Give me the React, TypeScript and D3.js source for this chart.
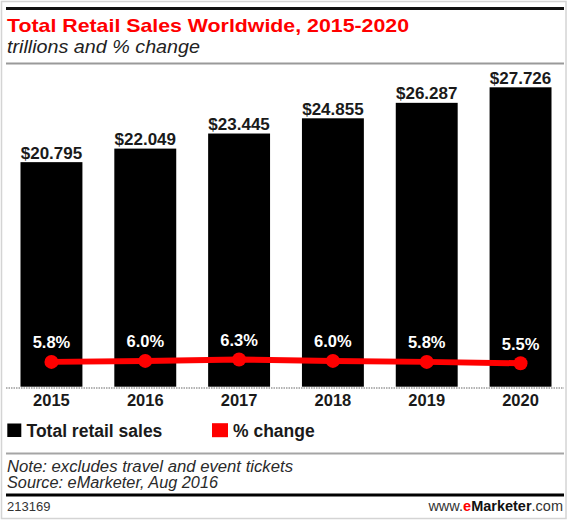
import React from "react";
import * as d3 from "d3";

const years = ["2015", "2016", "2017", "2018", "2019", "2020"];
const salesTrillions = [20.795, 22.049, 23.445, 24.855, 26.287, 27.726];
const pctChange = [5.8, 6.0, 6.3, 6.0, 5.8, 5.5];
const titleText = "Total Retail Sales Worldwide, 2015-2020";
const subtitleText = "trillions and % change";
const legendLabels = ["Total retail sales", "% change"];
const noteText = "Note: excludes travel and event tickets";
const sourceText = "Source: eMarketer, Aug 2016";
const chartId = "213169";

const W = 570;
const H = 521;
const FONT = "'Liberation Sans', Arial, sans-serif";
const RED = "#ff0000";
const INK = "#1a1a1a";

export default function App() {
  const x = d3.scaleBand<string>().domain(years).range([20.5, 551.5]).paddingInner(0.34).paddingOuter(0);
  const y = d3.scaleLinear().domain([0, d3.max(salesTrillions) as number]).range([386.7, 87.3]);
  const yp = d3.scaleLinear().domain([5.5, 6.3]).range([363.3, 359.5]);
  const cx = (i: number) => (x(years[i]) as number) + x.bandwidth() / 2;

  const line = d3
    .line<number>()
    .x((_, i) => cx(i))
    .y((d) => yp(d));

  return (
    <div style={{ position: "absolute", left: 0, top: 0 }}>
      <svg width={W} height={H} style={{ display: "block", background: "#fff" }} fontFamily={FONT}>
        <rect x={1.5} y={1.5} width={564.5} height={517} fill="#fff" stroke="#d4d4d4" strokeWidth={1.5} />
        <rect x={6} y={7} width={558} height={3} fill="#111" />
        <text x={7} y={32} fontSize={19} fontWeight="bold" fill={RED} textLength={402} lengthAdjust="spacingAndGlyphs">
          {titleText}
        </text>
        <text x={7} y={53.3} fontSize={19} fontStyle="italic" fill="#222" textLength={193} lengthAdjust="spacingAndGlyphs">
          {subtitleText}
        </text>
        <line x1={6} x2={564} y1={63.5} y2={63.5} stroke="#9a9a9a" strokeWidth={2} />

        {salesTrillions.map((v, i) => (
          <g key={years[i]}>
            <rect x={x(years[i])} y={y(v)} width={x.bandwidth()} height={y(0) - y(v)} fill="#000" />
            <text x={cx(i)} y={y(v) - 3.5} textAnchor="middle" fontSize={17} fontWeight="bold" fill={INK}>
              {"$" + d3.format(".3f")(v)}
            </text>
            <text x={cx(i)} y={405.5} textAnchor="middle" fontSize={16.5} fontWeight="bold" fill={INK}>
              {years[i]}
            </text>
          </g>
        ))}

        <line x1={6} x2={564} y1={388} y2={388} stroke="#9a9a9a" strokeWidth={1.5} strokeDasharray="1.5,1" />

        <path d={line(pctChange) as string} fill="none" stroke={RED} strokeWidth={6} strokeLinejoin="round" />
        {pctChange.map((v, i) => (
          <g key={"p" + years[i]}>
            <circle cx={cx(i)} cy={yp(v)} r={7} fill={RED} />
            <text x={cx(i)} y={yp(v) - 13.8} textAnchor="middle" fontSize={16.5} fontWeight="bold" fill="#fff">
              {d3.format(".1f")(v) + "%"}
            </text>
          </g>
        ))}

        <rect x={7.3} y={423.5} width={14} height={13.5} fill="#000" />
        <text x={26.5} y={436.7} fontSize={17.5} fontWeight="bold" fill={INK}>
          {legendLabels[0]}
        </text>
        <rect x={212} y={423.2} width={16} height={14} fill={RED} />
        <text x={233} y={436.7} fontSize={17.5} fontWeight="bold" fill={INK}>
          {legendLabels[1]}
        </text>

        <line x1={6} x2={564} y1={453.5} y2={453.5} stroke="#a5a5a5" strokeWidth={2} />
        <text x={7} y={471.7} fontSize={16} fontStyle="italic" fill="#2a2a2a" textLength={286} lengthAdjust="spacingAndGlyphs">
          {noteText}
        </text>
        <text x={7} y={488.3} fontSize={16} fontStyle="italic" fill="#2a2a2a" textLength={211} lengthAdjust="spacingAndGlyphs">
          {sourceText}
        </text>
        <rect x={6} y={493.5} width={558} height={3} fill="#000" />
        <text x={7} y={510.7} fontSize={13} fill="#333">
          {chartId}
        </text>
        <text x={563} y={510.7} textAnchor="end" fontSize={14.5} fill="#333">
          <tspan>www.</tspan>
          <tspan fill={RED} fontWeight="bold">e</tspan>
          <tspan fontWeight="bold" fill="#111">Marketer</tspan>
          <tspan>.com</tspan>
        </text>
      </svg>
    </div>
  );
}
